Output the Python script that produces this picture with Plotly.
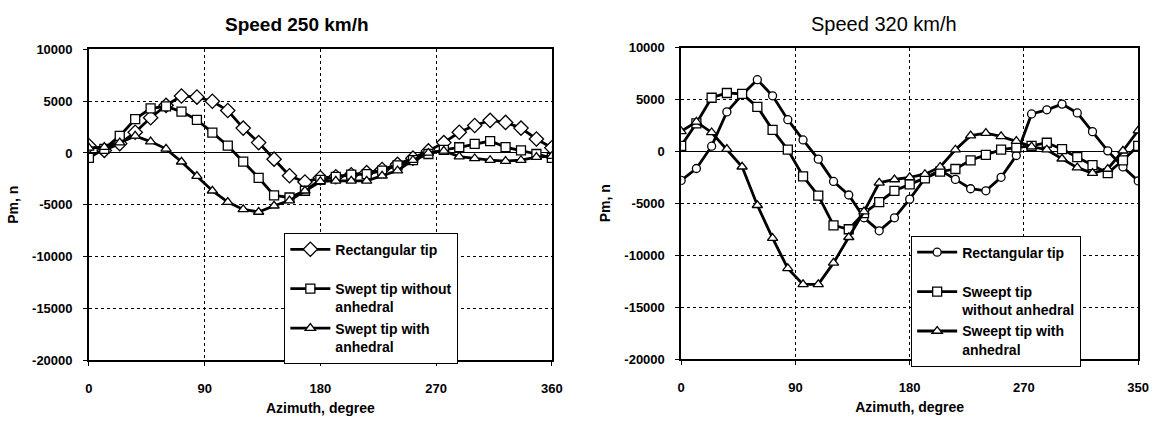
import plotly.graph_objects as go

azimuth = [0, 12, 24, 36, 48, 60, 72, 84, 96, 108, 120, 132, 144, 156, 168, 180,
           192, 204, 216, 228, 240, 252, 264, 276, 288, 300, 312, 324, 336, 348, 360]

# Speed 250 km/h
rect_250 = [700, 250, 900, 2000, 3400, 4600, 5500, 5400, 5000, 4100, 2400, 1000, -600, -2200, -2800, -2400,
            -2300, -2100, -1900, -1600, -1100, -500, 200, 1000, 2000, 2650, 3150, 2950, 2400, 1350, 500]
swept_250 = [-470, 400, 1650, 3270, 4300, 4500, 4000, 3200, 1960, 700, -840, -2400, -4100, -4300, -3650, -2600,
             -2300, -2100, -2050, -1700, -1200, -700, -100, 300, 550, 870, 1150, 560, 250, -100, -470]
anh_250 = [500, 560, 1000, 1650, 1100, 400, -850, -2240, -3650, -4740, -5450, -5700, -5100, -4600, -3650, -2750,
           -2700, -2700, -2700, -2200, -1700, -700, 0, 200, -350, -530, -700, -780, -700, -400, -300]

# Speed 320 km/h
rect_320 = [-2800, -1650, 500, 3800, 5450, 6900, 5350, 3050, 1100, -750, -2900, -4200, -6400, -7650, -6400, -4600,
            -2600, -1800, -2700, -3600, -3800, -2500, -400, 3600, 4000, 4550, 3700, 1900, 50, -1500, -2850]
swept_320 = [530, 2700, 5160, 5620, 5530, 4290, 2070, 160, -2400, -4260, -7130, -7500, -5950, -4880, -3800, -3180,
             -2600, -1950, -1700, -860, -340, 160, 370, 530, 830, 210, -560, -1330, -2100, -860, 530]
anh_320 = [1920, 2840, 1820, 210, -1480, -5190, -8360, -11270, -12810, -12810, -10740, -8270, -5800, -3030, -2710, -2500,
           -2200, -1500, 160, 1510, 1760, 1450, 990, 460, 160, -710, -1570, -2100, -1700, 60, 2000]

names_250 = ["Rectangular tip<br> ", "Swept tip without<br>anhedral", "Swept tip with<br>anhedral"]
names_320 = ["Rectangular tip<br> ", "Sweept tip<br>without anhedral", "Sweept tip with<br>anhedral"]

y_ticks = [-20000, -15000, -10000, -5000, 0, 5000, 10000]
y_text = ["-20000", "-15000", "-10000", "-5000", "0", "5000", "10000"]
x_ticks = [0, 90, 180, 270, 360]
x_text_250 = ["0", "90", "180", "270", "360"]
x_text_320 = ["0", "90", "180", "270", "350"]

FONT = "Liberation Sans, Arial, sans-serif"
W, H = 1165, 423

fig = go.Figure()


def add(x, y, name, sym, size, xa, ya, leg):
    fig.add_trace(go.Scatter(
        x=x, y=y, name=name, mode="lines+markers", xaxis=xa, yaxis=ya, legend=leg,
        line=dict(color="black", width=2.8),
        marker=dict(symbol=sym, size=size, color="white", line=dict(color="black", width=1.3)),
    ))


add(azimuth, rect_250, names_250[0], "diamond", 11, "x", "y", "legend")
add(azimuth, swept_250, names_250[1], "square", 9, "x", "y", "legend")
add(azimuth, anh_250, names_250[2], "triangle-up", 9, "x", "y", "legend")
add(azimuth, rect_320, names_320[0], "circle", 8, "x2", "y2", "legend2")
add(azimuth, swept_320, names_320[1], "square", 9, "x2", "y2", "legend2")
add(azimuth, anh_320, names_320[2], "triangle-up", 9, "x2", "y2", "legend2")


def px_x(a, b):
    return [a / W, b / W]


def px_y(top, bottom):
    return [1 - bottom / H, 1 - top / H]


xcommon = dict(range=[0, 360], tickvals=x_ticks, showgrid=True, gridcolor="black", griddash="dot",
               gridwidth=1, showline=True, linecolor="black", linewidth=1.5, mirror=True,
               ticks="outside", ticklen=4, tickcolor="black", zeroline=False,
               tickfont=dict(family=FONT, size=13, color="black", weight="bold"),
               ticklabelstandoff=12,
               title=dict(text="<b>Azimuth, degree</b>", font=dict(family=FONT, size=14, color="black"),
                          standoff=8))
ycommon = dict(range=[-20000, 10000], tickvals=y_ticks, ticktext=y_text, showgrid=True, gridcolor="black",
               griddash="dot", gridwidth=1, showline=True, linecolor="black", linewidth=1.5, mirror=True,
               ticks="outside", ticklen=4, tickcolor="black",
               zeroline=True, zerolinecolor="black", zerolinewidth=1.3,
               tickfont=dict(family=FONT, size=13, color="black", weight="bold"),
               ticklabelstandoff=8,
               title=dict(text="<b>Pm, n</b>", font=dict(family=FONT, size=14, color="black"), standoff=10))

legcommon = dict(font=dict(family=FONT, size=14, color="black", weight="bold"),
                 bgcolor="white", bordercolor="black", borderwidth=1, valign="top",
                 xanchor="left", yanchor="top", tracegroupgap=0, itemwidth=40)

fig.update_layout(
    width=W, height=H, margin=dict(l=0, r=0, t=0, b=0),
    paper_bgcolor="white", plot_bgcolor="white", showlegend=True,
    xaxis=dict(domain=px_x(86, 555), anchor="y", ticktext=x_text_250, **xcommon),
    yaxis=dict(domain=px_y(44, 366), anchor="x", **ycommon),
    xaxis2=dict(domain=px_x(686, 1149), anchor="y2", ticktext=x_text_320, **xcommon),
    yaxis2=dict(domain=px_y(42, 365), anchor="x2", **ycommon),
    legend=dict(x=284 / W, y=1 - 234 / H, entrywidth=150, **legcommon),
    legend2=dict(x=919 / W, y=1 - 237 / H, entrywidth=130, **legcommon),
    annotations=[
        dict(text="<b>Speed 250 km/h</b>", x=297 / W, y=1 - 18 / H, xref="paper", yref="paper",
             showarrow=False, font=dict(family=FONT, size=19, color="black"), xanchor="center", yanchor="middle"),
        dict(text="Speed 320 km/h", x=891 / W, y=1 - 18 / H, xref="paper", yref="paper",
             showarrow=False, font=dict(family=FONT, size=20, color="black"), xanchor="center", yanchor="middle"),
    ],
)

fig.write_html("out.html")
